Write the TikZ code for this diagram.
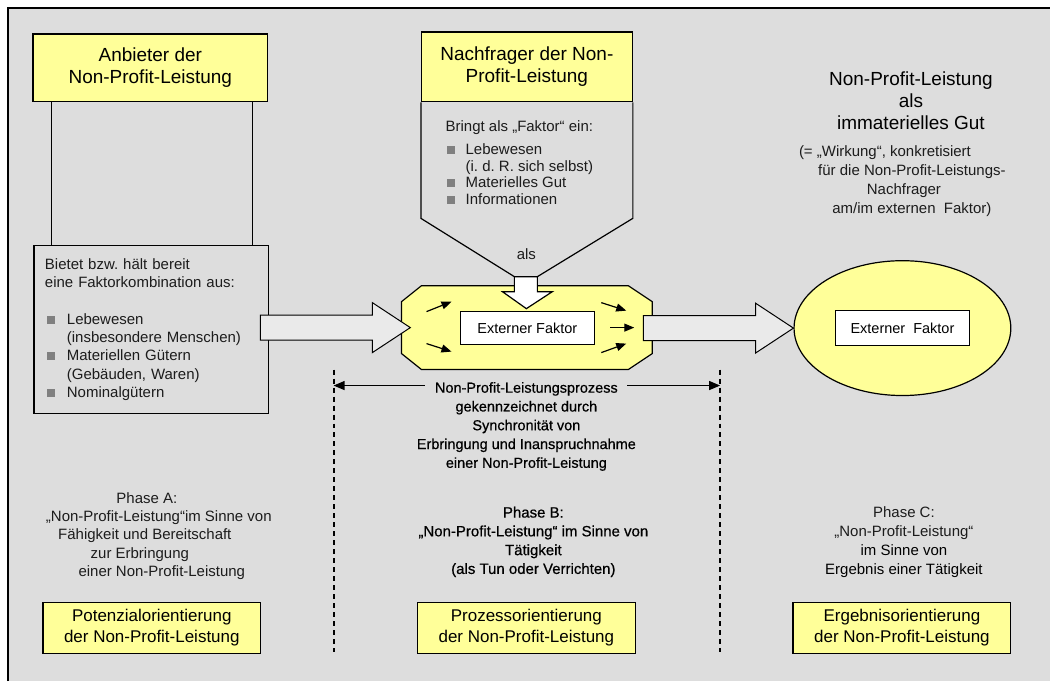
\documentclass[tikz,border=0pt]{standalone}
\usepackage{fontspec}
\setmainfont{Liberation Sans}
\newfontfamily\halbfett[FakeBold=0.6]{Liberation Sans}
\usetikzlibrary{shapes.geometric, arrows.meta, positioning, calc}
\definecolor{npgrau}{HTML}{DDDDDD}
\definecolor{npgelb}{HTML}{FFFF99}
\definecolor{pfeilgrau}{HTML}{EAEAEA}
\definecolor{punktgrau}{HTML}{808080}
\definecolor{textgrau}{HTML}{1C1C1C}
\newcommand{\punkt}{{\color{punktgrau}\rule[0.5pt]{8pt}{8pt}}}
\frenchspacing

\begin{document}
\begin{tikzpicture}[x=1pt, y=-1pt,
    every node/.style={font=\fontsize{15}{18.3}\selectfont, inner sep=0pt},
    kopf/.style={rectangle, draw, line width=1.2pt, fill=npgelb, align=center, font=\fontsize{19}{21.7}\selectfont},
    fuss/.style={rectangle, draw, line width=1.2pt, fill=npgelb, align=center, minimum width=218, minimum height=51, font=\fontsize{17}{20.5}\selectfont},
    extbox/.style={rectangle, draw, line width=1pt, fill=white, font=\fontsize{14.5}{17}\selectfont},
    phase/.style={align=center, text=textgrau},
    blockpfeil/.style={draw, line width=1pt, fill=pfeilgrau},
    kleinpfeil/.style={-{Triangle[length=10pt, width=8pt]}, line width=1.2pt},
    masspfeil/.style={-{Triangle[length=11pt, width=9pt]}, line width=1.2pt},
    grenze/.style={line width=1.8pt, dash pattern=on 5pt off 4pt}
]
    % background and frame
    \fill[npgrau] (8,8) rectangle (1051,682);
    \draw[line width=2.5pt] (8,682) -- (8,8) -- (1051,8);
    \useasboundingbox (0,0) rectangle (1051,682);

    % Phase A: Anbieter
    \node[kopf, minimum width=235, minimum height=68] (anbieter) at (150.5,68) {Anbieter der\\Non-Profit-Leistung};
    \node[rectangle, draw, line width=1.2pt, fill=npgrau, minimum width=235, minimum height=168, text width=213, align=left, text=textgrau] (bietet) at (151.5,330) {Bietet bzw. hält bereit\\
        eine Faktorkombination aus:\\[18.3pt]
        \hspace*{2pt}\punkt\hspace{12pt}Lebewesen\\
        \hspace*{22pt}(insbesondere Menschen)\\
        \hspace*{2pt}\punkt\hspace{12pt}Materiellen Gütern\\
        \hspace*{22pt}(Gebäuden, Waren)\\
        \hspace*{2pt}\punkt\hspace{12pt}Nominalgütern};
    \draw[line width=1.2pt] ($(anbieter.south west)+(19,0)$) -- ($(bietet.north west)+(18,0)$);
    \draw[line width=1.2pt] ($(anbieter.south east)+(-16,0)$) -- ($(bietet.north east)+(-17,0)$);

    % Phase B: Nachfrager
    \node[kopf, minimum width=211, minimum height=70] (nachfrager) at (527.5,67) {Nachfrager der Non-\\Profit-Leistung};
    \coordinate (als-l) at (515,277);
    \coordinate (als-r) at (538,277);
    \draw[line width=1.2pt] (nachfrager.south west) -- ++(0,116) -- (als-l);
    \draw[line width=1.2pt] (nachfrager.south east) -- ++(0,116) -- (als-r);
    \node[anchor=north west, align=left, font=\fontsize{15}{16.5}\selectfont, text=textgrau] (faktor) at (446,121) {Bringt als „Faktor“ ein:\\[6.5pt]
        \hspace*{1pt}\punkt\hspace{11pt}Lebewesen\\
        \hspace*{20pt}(i. d. R. sich selbst)\\
        \hspace*{1pt}\punkt\hspace{11pt}Materielles Gut\\
        \hspace*{1pt}\punkt\hspace{11pt}Informationen};
    \node[text=textgrau] (als) at (527,254) {als};

    \filldraw[fill=npgelb, line width=1.2pt] (422,286) -- (629,286) -- (653,302) -- (653,354) -- (629,370) -- (422,370) -- (402,354) -- (402,302) -- cycle;
    \node[minimum width=251, minimum height=84] (prozess) at (527.5,328) {};
    \node[extbox, minimum width=134, minimum height=33] (extern1) at (528,328.5) {Externer Faktor};
    \filldraw[fill=white, line width=1.2pt] (als-l) -- ++(0,15) -- ++(-12,0) -- (527,309) -- (553,292) -- (538,292) -- (als-r) -- cycle;
    \draw[kleinpfeil] (427,312) -- (452,302);
    \draw[kleinpfeil] (427,344) -- (452,352);
    \draw[kleinpfeil] (602,303) -- (627,311);
    \draw[kleinpfeil] (611,328) -- (635,328);
    \draw[kleinpfeil] (602,353) -- (627,344);

    % Phase C: Ergebnis
    \node[ellipse, draw, line width=1.2pt, fill=npgelb, minimum width=217, minimum height=135] (wirkung) at (903.5,328.5) {};
    \node[extbox, minimum width=135, minimum height=35] (extern2) at (wirkung.center) {Externer\ \ Faktor};
    \node[align=center, font=\fontsize{19}{21.7}\selectfont] (gut) at (912,101) {Non-Profit-Leistung\\als\\immaterielles Gut};
    \node[align=center, font=\fontsize{15}{19}\selectfont, text=textgrau] (wirkungtext) at (913,181.5) {\hspace*{-54pt}(= „Wirkung“, konkretisiert\\
        für die Non-Profit-Leistungs-\\
        \hspace*{-16pt}Nachfrager\\
        am/im externen\ \ Faktor)};

    % block arrows
    \draw[blockpfeil] let \p1=($(bietet.east)+(-9,0)$), \p2=($(prozess.west)+(9,0)$) in
        (\x1,\y2-12.5) -- (\x2-38,\y2-12.5) -- (\x2-38,\y2-25) -- (\p2) -- (\x2-38,\y2+25) -- (\x2-38,\y2+12.5) -- (\x1,\y2+12.5) -- cycle;
    \draw[blockpfeil] let \p1=($(prozess.east)+(-9,0)$), \p2=(wirkung.west) in
        (\x1,\y2-12.5) -- (\x2-38,\y2-12.5) -- (\x2-38,\y2-25) -- (\p2) -- (\x2-38,\y2+25) -- (\x2-38,\y2+12.5) -- (\x1,\y2+12.5) -- cycle;

    % process span
    \draw[grenze] (334,370) -- (334,653);
    \draw[grenze] (721,370) -- (721,653);
    \node[align=center, font=\halbfett\fontsize{14.5}{18.8}\selectfont] (prozesstext) at (527,427) {Non-Profit-Leistungsprozess\\gekennzeichnet durch\\Synchronität von\\Erbringung und Inanspruchnahme\\einer Non-Profit-Leistung};
    \coordinate (spanne-l) at (334,386);
    \coordinate (spanne-r) at (721,386);
    \draw[masspfeil] (425,386) -- (spanne-l);
    \draw[masspfeil] (628,386) -- (spanne-r);

    % phases
    \node[phase] (phaseA) at (159,536.5) {\hspace*{-24pt}Phase A:\\
        „Non-Profit-Leistung“im Sinne von\\
        \hspace*{-28pt}Fähigkeit und Bereitschaft\\
        \hspace*{-38pt}zur Erbringung\\
        \hspace*{6pt}einer Non-Profit-Leistung};
    \node[phase, text=black, font=\halbfett\fontsize{15}{18.8}\selectfont] (phaseB) at (534,542.5) {Phase B:\\„Non-Profit-Leistung“ im Sinne von\\Tätigkeit\\(als Tun oder Verrichten)};
    \node[phase, font=\fontsize{15}{19}\selectfont] (phaseC) at (905,542.5) {Phase C:\\„Non-Profit-Leistung“\\\textcolor{black}{im Sinne von}\\\textcolor{black}{Ergebnis einer Tätigkeit}};

    \node[fuss] (potenzial) at (152,628.5) {Potenzialorientierung\\der Non-Profit-Leistung};
    \node[fuss] (prozessor) at (527,628.5) {Prozessorientierung\\der Non-Profit-Leistung};
    \node[fuss] (ergebnis) at (903,628.5) {Ergebnisorientierung\\der Non-Profit-Leistung};
\end{tikzpicture}
\end{document}
